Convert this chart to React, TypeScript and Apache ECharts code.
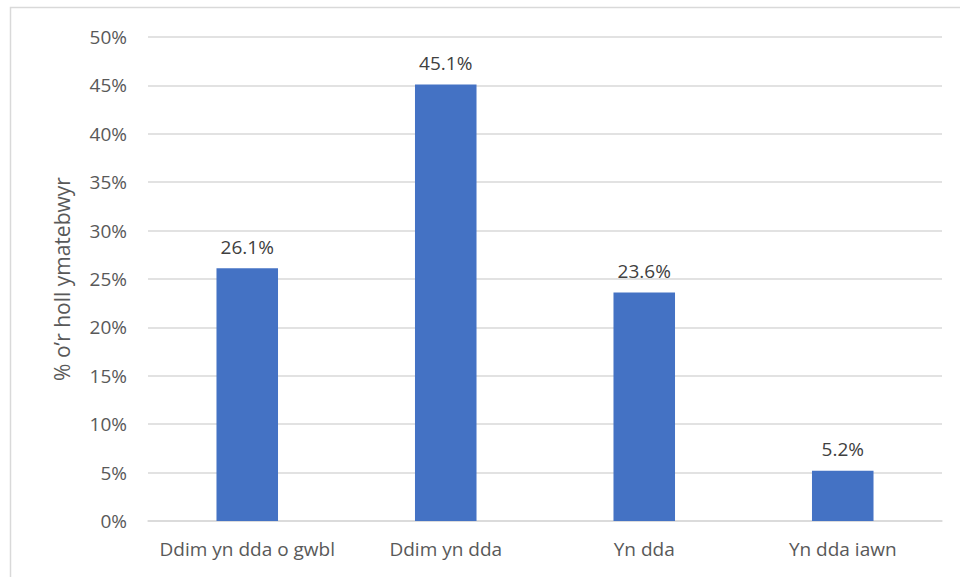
import React, { useEffect, useRef } from "react";
import * as echarts from "echarts";

const categories = ["Ddim yn dda o gwbl", "Ddim yn dda", "Yn dda", "Yn dda iawn"];
const values = [26.1, 45.1, 23.6, 5.2];
const yAxisTitle = "% o’r holl ymatebwyr";

export default function App() {
  const ref = useRef<HTMLDivElement>(null);
  useEffect(() => {
    if (!ref.current) return;
    const chart = echarts.init(ref.current, null, { renderer: "svg" });
    const font = "'Open Sans', 'Noto Sans', sans-serif";
    chart.setOption({
      animation: false,
      textStyle: { fontFamily: font },
      graphic: [
        {
          type: "rect",
          shape: { x: 10.5, y: 7.5, width: 960, height: 580 },
          style: { fill: "none", stroke: "#d9d9d9", lineWidth: 1.5 },
          silent: true,
        },
      ],
      grid: { left: 148, right: 18, top: 37, bottom: 56 },
      xAxis: {
        type: "category",
        data: categories,
        axisLine: { lineStyle: { color: "#d9d9d9", width: 1.5 } },
        axisTick: { show: false },
        axisLabel: { color: "#595959", fontSize: 19, margin: 18, interval: 0, hideOverlap: false, fontFamily: font },
      },
      yAxis: {
        type: "value",
        min: 0,
        max: 50,
        interval: 5,
        name: yAxisTitle,
        nameLocation: "middle",
        nameGap: 76,
        nameTextStyle: { color: "#595959", fontSize: 21, fontFamily: font },
        axisLine: { show: false },
        axisTick: { show: false },
        axisLabel: { color: "#595959", fontSize: 19, margin: 21, formatter: "{value}%", fontFamily: font },
        splitLine: { lineStyle: { color: "#d9d9d9", width: 1.5 } },
      },
      series: [
        {
          type: "bar",
          data: values,
          barWidth: "31%",
          itemStyle: { color: "#4472c4" },
          label: {
            show: true,
            position: "top",
            distance: 12,
            color: "#404040",
            fontSize: 19,
            fontFamily: font,
            formatter: (p: any) => p.value.toFixed(1) + "%",
          },
        },
      ],
    });
    return () => chart.dispose();
  }, []);
  return <div ref={ref} style={{ width: 960, height: 577, position: "absolute", left: 0, top: 0, background: "#fff" }} />;
}
